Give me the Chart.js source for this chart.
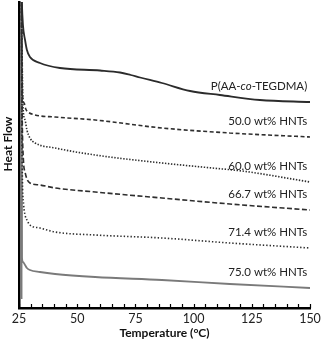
<!DOCTYPE html>
<html>
<head>
<meta charset="utf-8">
<script src="https://cdn.jsdelivr.net/npm/chart.js@4/dist/chart.umd.min.js"></script>
<style>
  html, body { margin: 0; padding: 0; background: #fff; }
  #wrap { width: 324px; height: 340px; }
</style>
</head>
<body>
<div id="wrap"><canvas id="dsc"></canvas></div>
<script>
  // DSC traces, heat flow in arbitrary units (endo up), temperature in °C
  const seriesNames = ["P(AA-co-TEGDMA)", "50.0 wt% HNTs", "60.0 wt% HNTs", "66.7 wt% HNTs", "71.4 wt% HNTs", "75.0 wt% HNTs"];

  const tempPoly = [26.0, 26.2, 26.7, 27.6, 28.4, 29.7, 34.0, 42.6, 59.8, 68.4, 73.0, 77.0, 86.4, 98.5, 111.3, 128.5, 150];
  const flowPoly = [330, 308, 283, 268, 258, 251, 245, 240, 237.5, 235.5, 233, 230.5, 225, 217, 213, 208, 206];

  const temp50 = [26.0, 26.5, 27.2, 27.9, 28.9, 31.9, 40.5, 57.7, 86.4, 115.6, 150];
  const flow50 = [330, 213, 205, 199, 196, 193, 191, 188, 180, 175, 171];

  const temp60 = [26.0, 26.7, 27.6, 28.4, 29.7, 31.9, 40.5, 57.7, 86.4, 107.9, 120.8, 150];
  const flow60 = [330, 203, 188, 178, 170, 165, 160, 153, 145, 140, 137, 126];

  const temp667 = [26.0, 26.3, 26.9, 27.6, 28.4, 29.7, 34.0, 40.5, 57.7, 86.4, 115.6, 150];
  const flow667 = [330, 208, 148, 136, 129, 125, 123, 120, 116, 110, 104, 98];

  const temp714 = [26.0, 26.3, 27.0, 27.6, 28.4, 29.7, 34.0, 40.5, 57.7, 86.4, 115.6, 150];
  const flow714 = [330, 158, 103, 93, 88, 83, 80, 76, 73, 70, 65, 60];

  const temp75 = [26.1, 26.1, 26.3, 26.7, 27.6, 28.4, 29.7, 34.0, 40.5, 57.7, 86.4, 115.6, 150];
  const flow75 = [9, 330, 50, 46, 43, 40, 38, 36, 34, 31, 28, 24, 20];

  const xTickLabels = [25, 50, 75, 100, 125, 150];

  function zip(xs, ys) {
    return xs.map((x, i) => ({ x: x, y: ys[i] }));
  }

  const styles = [
    { color: "#2b2b2b", width: 1.8, dash: [] },
    { color: "#2e2e2e", width: 1.6, dash: [4, 2.5] },
    { color: "#2e2e2e", width: 1.6, dash: [1.4, 1.6] },
    { color: "#2e2e2e", width: 1.6, dash: [5, 2.5] },
    { color: "#2e2e2e", width: 1.6, dash: [1.4, 2] },
    { color: "#7a7a7a", width: 1.8, dash: [] },
  ];

  const traces = [
    zip(tempPoly, flowPoly),
    zip(temp50, flow50),
    zip(temp60, flow60),
    zip(temp667, flow667),
    zip(temp714, flow714),
    zip(temp75, flow75),
  ];

  const datasets = traces.map((pts, i) => ({
    label: seriesNames[i],
    data: pts,
    borderColor: styles[i].color,
    borderWidth: styles[i].width,
    borderDash: styles[i].dash,
    pointRadius: 0,
    cubicInterpolationMode: "monotone",
    fill: false,
  }));

  // inward ticks, curve labels and the rotated y title
  const decorations = {
    id: "decorations",
    afterDraw(chart) {
      const ctx = chart.ctx;
      const xs = chart.scales.x;
      const ys = chart.scales.y;
      const area = chart.chartArea;

      ctx.save();
      ctx.strokeStyle = "#000";
      ctx.lineWidth = 1.2;
      for (let t = 25; t <= 150; t += 5) {
        const px = Math.round(xs.getPixelForValue(t)) + 0.5;
        ctx.beginPath();
        ctx.moveTo(px, area.bottom);
        ctx.lineTo(px, area.bottom - 4);
        ctx.stroke();
      }

      const labelFont = "11.5px Lato";
      const rightX = xs.getPixelForValue(148.8);
      ctx.fillStyle = "#222";
      ctx.textBaseline = "middle";
      traces.forEach((pts, i) => {
        const last = pts[pts.length - 1];
        const y = ys.getPixelForValue(last.y) - 16;
        if (i === 0) {
          const parts = [
            { t: "P(AA-", f: labelFont },
            { t: "co", f: "italic " + labelFont },
            { t: "-TEGDMA)", f: labelFont },
          ];
          let total = 0;
          parts.forEach((p) => { ctx.font = p.f; total += ctx.measureText(p.t).width; });
          let x = rightX - total;
          ctx.textAlign = "left";
          parts.forEach((p) => {
            ctx.font = p.f;
            ctx.fillText(p.t, x, y);
            x += ctx.measureText(p.t).width;
          });
        } else {
          ctx.font = labelFont;
          ctx.textAlign = "right";
          ctx.fillText(seriesNames[i], rightX, y);
        }
      });

      ctx.translate(8, 144);
      ctx.rotate(-Math.PI / 2);
      ctx.font = "bold 12px Lato";
      ctx.fillStyle = "#111";
      ctx.textAlign = "center";
      ctx.textBaseline = "middle";
      ctx.fillText("Heat Flow", 0, 0);
      ctx.restore();
    },
  };

  new Chart(document.getElementById("dsc"), {
    type: "line",
    data: { datasets: datasets },
    options: {
      responsive: true,
      maintainAspectRatio: false,
      animation: false,
      layout: { padding: { top: 2, right: 14, left: 0, bottom: 0 } },
      plugins: {
        legend: { display: false },
        tooltip: { enabled: false },
      },
      scales: {
        x: {
          type: "linear",
          min: 25,
          max: 150,
          afterBuildTicks: (scale) => {
            scale.ticks = xTickLabels.map((v) => ({ value: v }));
          },
          afterFit: (scale) => { scale.height = 32; },
          grid: { display: false, drawTicks: false },
          border: { display: true, color: "#000", width: 2.5 },
          ticks: {
            autoSkip: false,
            maxRotation: 0,
            padding: 3,
            color: "#222",
            font: { family: "Lato", size: 12.5 },
          },
          title: {
            display: true,
            text: "Temperature (°C)",
            color: "#111",
            padding: { top: 0, bottom: 0 },
            font: { family: "Lato", size: 12, weight: "bold" },
          },
        },
        y: {
          type: "linear",
          min: 0,
          max: 306,
          afterFit: (scale) => { scale.width = 19; },
          grid: { display: false, drawTicks: false },
          border: { display: true, color: "#000", width: 2.5 },
          ticks: { display: false },
        },
      },
    },
    plugins: [decorations],
  });
</script>
</body>
</html>
